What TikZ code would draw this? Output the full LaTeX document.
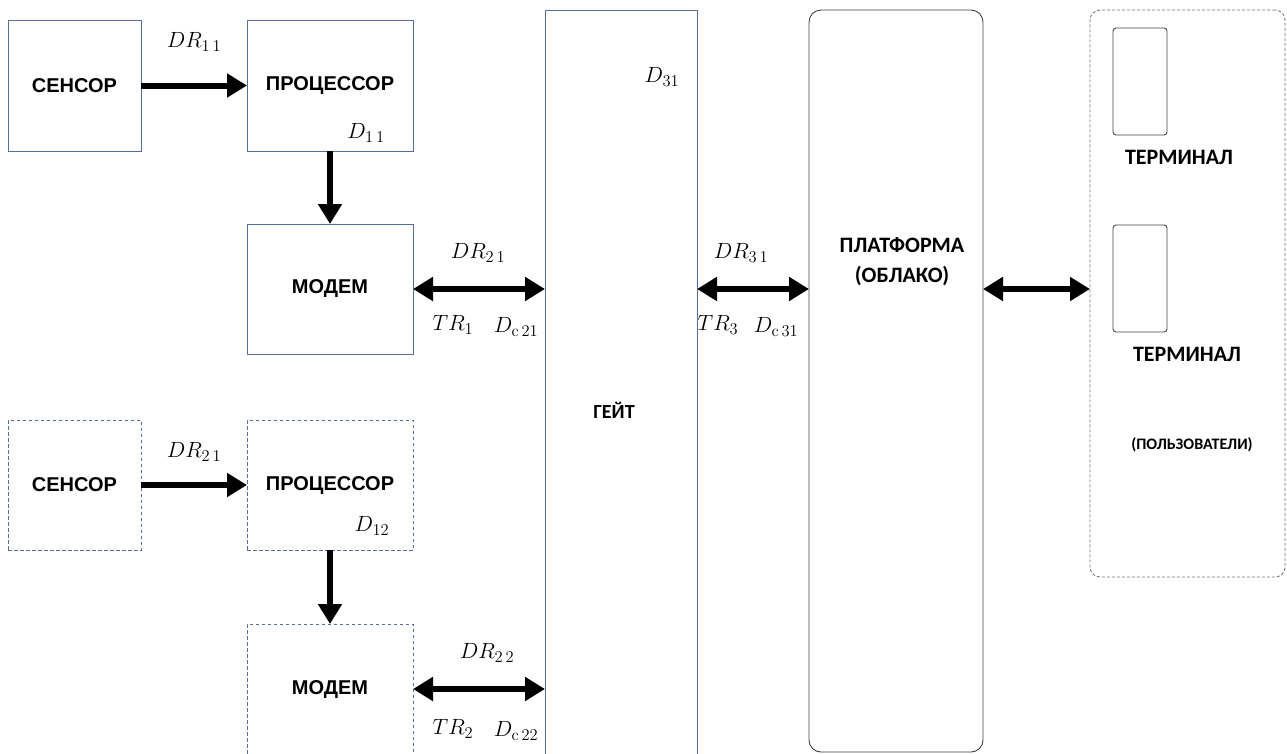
\RequirePackage{fix-cm}
\documentclass[tikz,border=0pt]{standalone}
\usepackage[no-math]{fontspec}
\setmainfont{Liberation Sans}
\newfontfamily\carl{Carlito}
\usetikzlibrary{arrows.meta}
\DeclareMathSizes{22}{22}{16.5}{12}
\definecolor{bgray}{RGB}{84,112,160}
\definecolor{dgray}{RGB}{64,64,64}
\definecolor{lgray}{RGB}{120,120,120}
\tikzset{
  box/.style={draw=bgray, line width=0.9pt, inner sep=0pt, outer sep=0pt, font=\fontsize{20}{24}\selectfont\bfseries},
  dbox/.style={box, dash pattern=on 3.5pt off 2.5pt},
  fatarrow/.style={line width=6pt, -{Triangle[length=20pt,width=23pt]}},
  fatdbl/.style={line width=6pt, {Triangle[length=20pt,width=23pt]}-{Triangle[length=20pt,width=23pt]}},
  mlbl/.style={inner sep=0pt, font=\fontsize{22}{26}\selectfont},
  clbl/.style={inner sep=0pt, align=center, font=\carl\fontsize{22}{30}\selectfont\bfseries},
}
\begin{document}
\begin{tikzpicture}[x=1pt,y=-1pt]
\useasboundingbox (0,0) rectangle (1287,753);
\clip (0,0) rectangle (1287,753);
% upper chain
\node[box, minimum width=133pt, minimum height=131pt] (s1) at (74.5,85.5) {СЕНСОР};
\node[box, minimum width=166pt, minimum height=131pt] (p1) at (330,85.5) {ПРОЦЕССОР};
\node[box, minimum width=166pt, minimum height=130pt] (m1) at (330,289) {МОДЕМ};
% lower chain
\node[dbox, minimum width=133pt, minimum height=130pt] (s2) at (74.5,485) {СЕНСОР};
\node[dbox, minimum width=166pt, minimum height=130pt] (p2) at (330,485) {ПРОЦЕССОР};
\node[dbox, minimum width=166pt, minimum height=130pt] (m2) at (330,689) {МОДЕМ};
% gate
\node[box, minimum width=152pt, minimum height=790pt] (gate) at (621,405) {};
\node[clbl, font=\carl\fontsize{20}{24}\selectfont\bfseries] (gatet) at (614,410) {ГЕЙТ};
% platform
\node[draw=dgray, line width=0.9pt, rounded corners=12pt, inner sep=0pt, outer sep=0pt, minimum width=174pt, minimum height=742pt] (plat) at (896,381) {};
\node[clbl] (platt) at (902,262) {ПЛАТФОРМА\\(ОБЛАКО)};
% users
\node[draw=lgray, line width=0.9pt, dash pattern=on 3pt off 2pt, rounded corners=10pt, inner sep=0pt, outer sep=0pt, minimum width=195pt, minimum height=567pt] (users) at (1187.5,293.5) {};
\node[draw=dgray, line width=0.9pt, rounded corners=3pt, inner sep=0pt, minimum width=54pt, minimum height=107pt] (t1) at (1140,81.5) {};
\node[draw=dgray, line width=0.9pt, rounded corners=3pt, inner sep=0pt, minimum width=54pt, minimum height=107pt] (t2) at (1140,278.5) {};
\node[clbl] (t1l) at (1179,157) {ТЕРМИНАЛ};
\node[clbl] (t2l) at (1187,354) {ТЕРМИНАЛ};
\node[clbl, font=\carl\fontsize{16}{20}\selectfont\bfseries] (usersl) at (1192,445) {(ПОЛЬЗОВАТЕЛИ)};
% arrows
\draw[fatarrow] (s1.east) -- (p1.west);
\draw[fatarrow] (p1.south) -- (m1.north);
\draw[fatarrow] (s2.east) -- (p2.west);
\draw[fatarrow] (p2.south) -- (m2.north);
\draw[fatdbl] (m1.east) -- (m1.east -| gate.west);
\draw[fatdbl] (m2.east) -- (m2.east -| gate.west);
\draw[fatdbl] (m1.east -| gate.east) -- (m1.east -| plat.west);
\draw[fatdbl] (m1.east -| plat.east) -- (m1.east -| users.west);
% math labels
\node[mlbl] (l1) at (194,42) {$DR_{1\,1}$};
\node[mlbl] (l2) at (366,133) {$D_{1\,1}$};
\node[mlbl] (l3) at (662,77) {$D_{31}$};
\node[mlbl] (l4) at (478,253) {$DR_{2\,1}$};
\node[mlbl] (l5) at (453,325) {$TR_1$};
\node[mlbl] (l6) at (516,327) {$D_{\mathrm{c}\,21}$};
\node[mlbl] (l7) at (741,253) {$DR_{3\,1}$};
\node[mlbl] (l8) at (718,325) {$TR_3$};
\node[mlbl] (l9) at (776,327) {$D_{\mathrm{c}\,31}$};
\node[mlbl] (l10) at (194,452) {$DR_{2\,1}$};
\node[mlbl] (l11) at (372,526) {$D_{12}$};
\node[mlbl] (l12) at (487,653) {$DR_{2\,2}$};
\node[mlbl] (l13) at (453,729) {$TR_2$};
\node[mlbl] (l14) at (516,731) {$D_{\mathrm{c}\,22}$};
\end{tikzpicture}
\end{document}
